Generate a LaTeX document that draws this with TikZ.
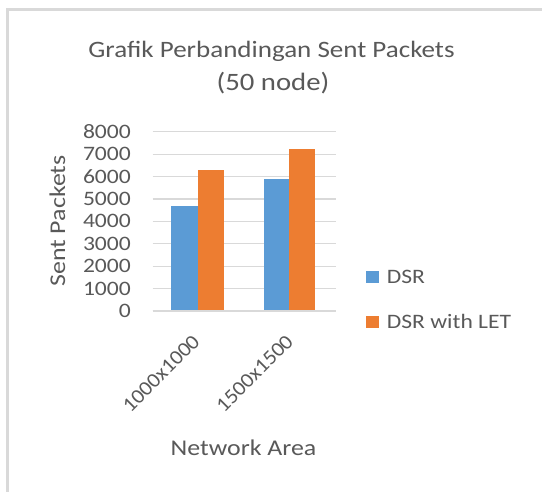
\documentclass[tikz,border=0pt]{standalone}
\usepackage{fontspec}
\newfontfamily\cf[FakeStretch=1.15]{Carlito}
\newfontfamily\cfr[FakeStretch=1.08]{Carlito}
\definecolor{gridc}{HTML}{D9D9D9}
\definecolor{txt}{HTML}{595959}
\definecolor{dsrc}{HTML}{5B9BD5}
\definecolor{letc}{HTML}{ED7D31}
\tikzset{
  lbl/.style={text=txt, inner sep=0pt, font=\cf\fontsize{20.5}{24}\selectfont},
  catlbl/.style={text=txt, inner sep=0pt, font=\cfr\fontsize{20.5}{24}\selectfont, anchor=base east, rotate=45},
  ttl/.style={text=txt, inner sep=0pt, font=\cf\fontsize{22.5}{27}\selectfont},
  grid line/.style={gridc, line width=1.3pt},
  frame line/.style={gridc, line width=2.5pt},
}
\begin{document}
\begin{tikzpicture}[x=1pt,y=-1pt]
\useasboundingbox (0,0) rectangle (542,492);
\fill[white] (0,0) rectangle (542,492);
% frame
\draw[frame line] (7.5,492) -- (7.5,9.7) -- (542,9.7);
% title
\node[ttl, anchor=base, font=\cf\fontsize{23.5}{28}\selectfont] (title1) at (271.5,57.3) {Grafik Perbandingan Sent Packets};
\node[ttl, anchor=base, font=\cf\fontsize{25}{30}\selectfont] (title2) at (273,90.5) {(50 node)};
% grid and ticks
\foreach \v in {0,...,8} {
  \draw[grid line] (152.7,{311-22.4*\v}) -- (335.7,{311-22.4*\v});
  \node[lbl, anchor=east] (tick\v) at (131,{311-22.4*\v}) {\the\numexpr\v*1000\relax};
}
% bars
\fill[dsrc] (171,311) rectangle (197.7,{311-22.4*4.687});
\fill[letc] (197.7,311) rectangle (224,{311-22.4*6.295});
\fill[dsrc] (264,311) rectangle (289,{311-22.4*5.893});
\fill[letc] (289,311) rectangle (315,{311-22.4*7.232});
% axis line (zero)
\draw[grid line] (152.7,311) -- (335.7,311);
% category labels
\node[catlbl] (cat1) at (201,343) {1000x1000};
\node[catlbl] (cat2) at (294.5,343) {1500x1500};
% axis titles
\node[ttl, anchor=base, rotate=90] (ytitle) at (65,221) {Sent Packets};
\node[ttl, anchor=base] (xtitle) at (243.5,456) {Network Area};
% legend
\fill[dsrc] (366,270.7) rectangle (379,283.3);
\node[lbl, anchor=base west] (leg1) at (386.7,284) {DSR};
\fill[letc] (366,316) rectangle (379,328.3);
\node[lbl, anchor=base west] (leg2) at (386.7,329) {DSR with LET};
\end{tikzpicture}
\end{document}
